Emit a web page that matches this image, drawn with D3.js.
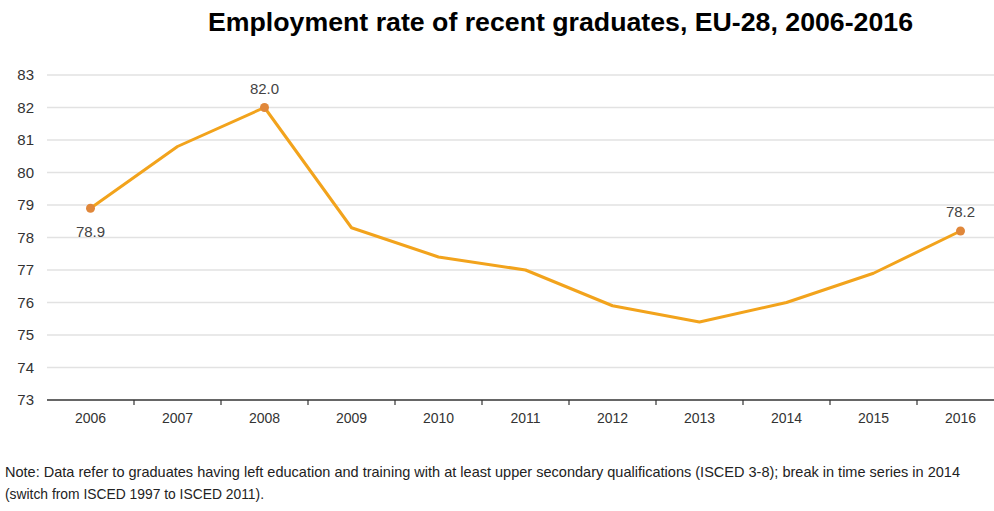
<!DOCTYPE html>
<html>
<head>
<meta charset="utf-8">
<script src="https://cdn.jsdelivr.net/npm/d3@7"></script>
<style>
  body { margin: 0; background: #fff; }
  svg { display: block; font-family: "Liberation Sans", Arial, sans-serif; }
</style>
</head>
<body>
<svg id="chart" width="994" height="511"></svg>
<script>
var years = ["2006","2007","2008","2009","2010","2011","2012","2013","2014","2015","2016"];
var rates = [78.9, 80.8, 82.0, 78.3, 77.4, 77.0, 75.9, 75.4, 76.0, 76.9, 78.2];
var yTicks = [73, 74, 75, 76, 77, 78, 79, 80, 81, 82, 83];
var labelled = {"2006": "below", "2008": "above", "2016": "above"};
var titleText = "Employment rate of recent graduates, EU-28, 2006-2016";
var noteLines = [
  "Note: Data refer to graduates having left education and training with at least upper secondary qualifications (ISCED 3-8); break in time series in 2014",
  "(switch from ISCED 1997 to ISCED 2011)."
];

var svg = d3.select("#chart");

var x = d3.scaleBand().domain(years).range([47, 1004]);
var y = d3.scaleLinear().domain([73, 83]).range([400, 75]);

// title
svg.append("text")
    .attr("x", 208).attr("y", 31)
    .attr("font-size", 25).attr("font-weight", "bold")
    .attr("fill", "#000")
    .attr("textLength", 705)
    .attr("lengthAdjust", "spacingAndGlyphs")
    .text(titleText);

// gridlines
svg.append("g").selectAll("line")
  .data(yTicks.filter(d => d > 73))
  .join("line")
    .attr("x1", 47).attr("x2", 994)
    .attr("y1", d => y(d)).attr("y2", d => y(d))
    .attr("stroke", "#e2e2e2").attr("stroke-width", 1.5);

// y axis labels
var yAxis = svg.append("g")
    .attr("transform", "translate(40,0)")
    .call(d3.axisLeft(y).tickValues(yTicks).tickSize(0).tickPadding(6));
yAxis.select(".domain").remove();
yAxis.selectAll("text")
    .attr("font-size", 15).attr("fill", "#333")
    .attr("font-family", "Liberation Sans, Arial, sans-serif");

// x axis
var xAxis = svg.append("g")
    .attr("transform", "translate(0,400)")
    .call(d3.axisBottom(x).tickSize(0).tickPadding(13));
xAxis.select(".domain").remove();
xAxis.selectAll("text")
    .attr("font-size", 14).attr("fill", "#333")
    .attr("font-family", "Liberation Sans, Arial, sans-serif");
svg.append("line")
    .attr("x1", 47).attr("x2", 994).attr("y1", 400).attr("y2", 400)
    .attr("stroke", "#333").attr("stroke-width", 1.5);
svg.append("g").selectAll("line")
  .data(years.slice(1))
  .join("line")
    .attr("x1", d => x(d)).attr("x2", d => x(d))
    .attr("y1", 400).attr("y2", 405)
    .attr("stroke", "#333").attr("stroke-width", 1.2);

// line
var line = d3.line()
    .x((d, i) => x(years[i]) + x.bandwidth() / 2)
    .y(d => y(d));

svg.append("path")
    .attr("d", line(rates))
    .attr("fill", "none")
    .attr("stroke", "#f2a31c")
    .attr("stroke-width", 3)
    .attr("stroke-linejoin", "round");

// markers + labels
var pts = years.map((yr, i) => ({year: yr, v: rates[i]})).filter(d => labelled[d.year]);
svg.append("g").selectAll("circle")
  .data(pts)
  .join("circle")
    .attr("cx", d => x(d.year) + x.bandwidth() / 2)
    .attr("cy", d => y(d.v))
    .attr("r", 4.5)
    .attr("fill", "#e0873a");
svg.append("g").selectAll("text")
  .data(pts)
  .join("text")
    .attr("x", d => x(d.year) + x.bandwidth() / 2)
    .attr("y", d => labelled[d.year] === "above" ? y(d.v) - 14 : y(d.v) + 29)
    .attr("text-anchor", "middle")
    .attr("font-size", 15).attr("fill", "#444")
    .text(d => d.v.toFixed(1));

// note
svg.append("g").selectAll("text")
  .data(noteLines)
  .join("text")
    .attr("x", 5)
    .attr("y", (d, i) => 477 + i * 22)
    .attr("font-size", 15)
    .attr("fill", "#222")
    .attr("textLength", (d, i) => i === 0 ? 955 : 259)
    .attr("lengthAdjust", "spacingAndGlyphs")
    .text(d => d);
</script>
</body>
</html>
